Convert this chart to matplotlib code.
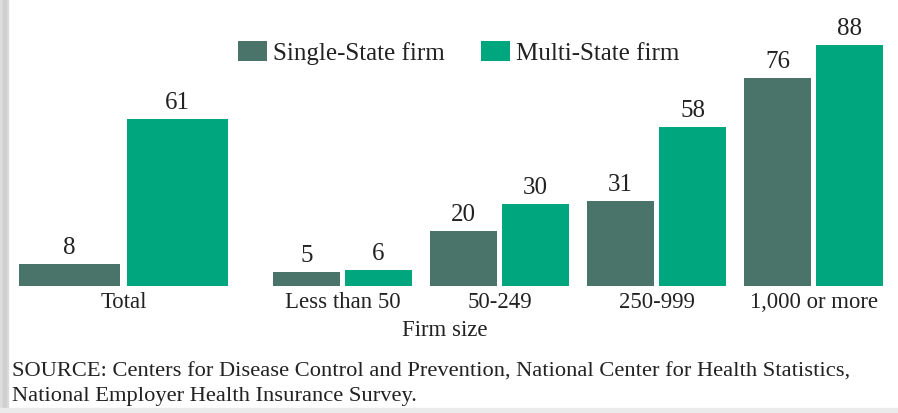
import numpy as np
import matplotlib.pyplot as plt
from matplotlib.patches import Rectangle

groups = ["Total", "Less than 50", "50-249", "250-999", "1,000 or more"]
single_state = [8, 5, 20, 31, 76]
multi_state = [61, 6, 30, 58, 88]
series_names = ["Single-State firm", "Multi-State firm"]
source_lines = [
    "SOURCE: Centers for Disease Control and Prevention, National Center for Health Statistics,",
    "National Employer Health Insurance Survey.",
]

single_color = "#4a7369"
multi_color = "#00a67e"
text_color = "#222222"

# layout in pixel-like units along x
centers = np.array([123.5, 342.5, 499.5, 656.5, 813.5])
widths = np.array([101, 67, 67, 67, 67])
gaps = np.array([7, 5, 5, 5, 5])

W, H = 898, 413
fig = plt.figure(figsize=(W / 100, H / 100), dpi=100)
fig.patch.set_facecolor("white")

plt.rcParams["font.family"] = ["Liberation Serif", "DejaVu Serif"]

base_px = 286
px_per_unit = 2.735
ax = fig.add_axes([0, (H - base_px) / H, 1, base_px / H])
ax.set_xlim(0, W)
ax.set_ylim(0, base_px / px_per_unit)
ax.axis("off")

left_x = centers - gaps / 2 - widths / 2
right_x = centers + gaps / 2 + widths / 2
b1 = ax.bar(left_x, single_state, width=widths, color=single_color, label=series_names[0])
b2 = ax.bar(right_x, multi_state, width=widths, color=multi_color, label=series_names[1])

for bars in (b1, b2):
    for rect in bars:
        v = rect.get_height()
        ax.annotate(f"{v:g}", (rect.get_x() + rect.get_width() / 2, v),
                    xytext=(0, 16), textcoords="offset pixels",
                    ha="center", va="center", fontsize=18, color=text_color)

for c, name in zip(centers, groups):
    ax.annotate(name, (c, 0), xytext=(0, -16), textcoords="offset pixels",
                ha="center", va="center", fontsize=16.4, color=text_color,
                annotation_clip=False)

fig.text(445 / W, 1 - 331 / H, "Firm size", ha="center", va="center",
         fontsize=16.4, color=text_color)
fig.text(12 / W, 1 - 372 / H, source_lines[0], ha="left", va="center",
         fontsize=16.2, color=text_color)
fig.text(12 / W, 1 - 396 / H, source_lines[1], ha="left", va="center",
         fontsize=16.2, color=text_color)

ax.legend(handles=[b1, b2], loc="center left", bbox_to_anchor=(238 / W, 1 - 53 / base_px),
          ncol=2, frameon=False, fontsize=18, handlelength=1.16, handleheight=0.8,
          handletextpad=0.24, columnspacing=1.44, labelcolor=text_color,
          borderaxespad=0, borderpad=0)

# page edges
fig.patches.append(Rectangle((0, 0), 8 / W, 1, transform=fig.transFigure,
                             color="#dcdcdc", zorder=-1))
fig.patches.append(Rectangle((3 / W, 0), 3 / W, 1, transform=fig.transFigure,
                             color="#cfcfcf", zorder=-1))
fig.patches.append(Rectangle((0, 0), 1, 5 / H, transform=fig.transFigure,
                             color="#ebebeb", zorder=-1))

fig.savefig("out.png", dpi=100)
